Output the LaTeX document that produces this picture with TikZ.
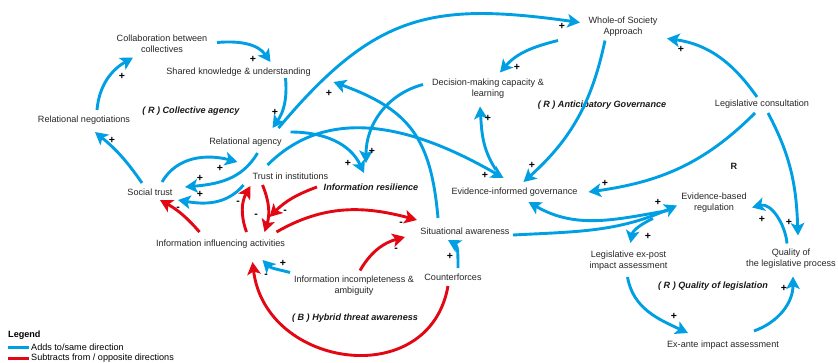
\documentclass[tikz,border=0pt]{standalone}
\usepackage{fontspec}
\setmainfont{Liberation Sans}
\usetikzlibrary{arrows.meta,calc}

\definecolor{addblue}{RGB}{0,159,227}
\definecolor{subred}{RGB}{227,6,19}
\newcommand{\cldsize}{\fontsize{9.1}{11}\selectfont}

\tikzset{
  cvar/.style={font=\cldsize, align=center, inner sep=1pt, text=black!85},
  looplbl/.style={font=\cldsize\bfseries\itshape, inner sep=1pt, text=black!90},
  addarrow/.style={draw=addblue, line width=2.9pt, -{Stealth[length=12.5pt,width=13.5pt,inset=3pt]}},
  subarrow/.style={addarrow, draw=subred},
  sgn/.style={font=\fontsize{10.5}{10.5}\selectfont\bfseries, inner sep=0pt},
}

\begin{document}
\begin{tikzpicture}[x=1pt,y=1pt]
	\useasboundingbox (0,0) rectangle (838,-362);

	% variables
	\node[cvar] (collab) at (162,-43.5) {Collaboration between\\collectives};
	\node[cvar] (shared) at (238.5,-72) {Shared knowledge \& understanding};
	\node[cvar] (relneg) at (84,-120) {Relational negotiations};
	\node[cvar] (relag) at (245.5,-142) {Relational agency};
	\node[cvar] (trust) at (290.5,-176) {Trust in institutions};
	\node[cvar] (social) at (150,-192) {Social trust};
	\node[looplbl] (infres) at (371,-187) {Information resilience};
	\node[cvar] (infl) at (220.5,-244) {Information influencing activities};
	\node[cvar] (sitaw) at (465,-231) {Situational awareness};
	\node[cvar] (incomp) at (354,-285.5) {Information incompleteness \&\\ambiguity};
	\node[cvar] (counter) at (453,-277) {Counterforces};
	\node[cvar] (whole) at (623,-26.5) {Whole-of Society\\Approach};
	\node[cvar] (decis) at (488,-88.5) {Decision-making capacity \&\\learning};
	\node[cvar] (legcons) at (762,-104) {Legislative consultation};
	\node[cvar] (eig) at (514.5,-192) {Evidence-informed governance};
	\node[cvar] (ebr) at (714,-202.5) {Evidence-based\\regulation};
	\node[cvar] (expost) at (628.5,-261) {Legislative ex-post\\impact assessment};
	\node[cvar] (qual) at (791,-258.5) {Quality of\\the legislative process};
	\node[cvar] (exante) at (723,-345) {Ex-ante impact assessment};

	% loop names
	\node[looplbl] (lpcoll) at (191,-111) {( R ) Collective agency};
	\node[looplbl] (lpanti) at (602,-105) {( R ) Anticipatory Governance};
	\node[looplbl] (lphyb) at (355,-318) {( B ) Hybrid threat awareness};
	\node[looplbl] (lpqual) at (713,-286) {( R ) Quality of legislation};
	\node[looplbl, font=\cldsize\bfseries] (lpr) at (734,-166) {R};

	% collective agency
	\draw[addarrow] ($(collab)+(55,1)$) to[out=5,in=125] ($(shared)+(32,10)$);
	\draw[addarrow] ($(shared)+(47,-6)$) to[out=-85,in=55] ($(relag)+(27,14)$);
	\draw[addarrow] ($(relneg)+(13,10)$) to[out=85,in=210] ($(collab)+(-29,-14)$);
	\draw[addarrow] ($(social)+(-8,9)$) to[bend right=8] ($(relneg)+(11,-12)$);
	\draw[addarrow] ($(social)+(12,10)$) to[out=60,in=165] ($(relag)+(-8,-20)$);
	\draw[addarrow] ($(relag)+(12,-11)$) to[out=240,in=5] ($(social)+(35,5)$);
	\draw[addarrow] ($(trust)+(-47,-9)$) to[out=230,in=-10] ($(social)+(28,-8)$);
	\draw[addarrow] ($(relag)+(33,14)$) to[out=50,in=172,looseness=1.2] ($(whole)+(-43,4)$);
	\draw[addarrow] ($(relag)+(45,10)$) to[out=0,in=115] ($(infres)+(-7,14)$);
	\draw[addarrow] ($(decis)+(-65,4)$) to[out=195,in=90] ($(infres)+(-5,24)$);
	\draw[addarrow] ($(sitaw)+(-27,13)$) to[out=95,in=-20,looseness=1.2] ($(shared)+(95,-10)$);

	% anticipatory governance
	\draw[addarrow] ($(trust)+(-23,11)$) to[out=45,in=150] ($(eig)+(-11,14)$);
	\draw[addarrow] ($(eig)+(-18.5,22)$) to[out=123,in=-86] ($(decis)+(-8,-18)$);
	\draw[addarrow] ($(whole)+(-65,-14)$) to[out=194,in=49] ($(decis)+(12,16)$);
	\draw[addarrow] ($(whole)+(-18,-14)$) to[out=258,in=42] ($(eig)+(9,10)$);
	\draw[addarrow] ($(legcons)+(-5,7)$) to[out=125,in=-8] ($(whole)+(44,-12)$);
	\draw[addarrow] ($(legcons)+(-7,-9)$) to[out=225,in=8] ($(eig)+(74,0)$);
	\draw[addarrow] ($(legcons)+(6,-9)$) to[out=-62,in=92] ($(qual)+(7,23)$);

	% quality of legislation
	\draw[addarrow] ($(qual)+(-4,15)$) to[out=95,in=15] ($(ebr)+(38,-5)$);
	\draw[addarrow] ($(sitaw)+(48,-4)$) to[out=3,in=204] ($(ebr)+(-37,-3)$);
	\draw[addarrow] ($(ebr)+(-46,-8)$) to[out=190,in=-30] ($(eig)+(14,-10)$);
	\draw[addarrow] ($(ebr)+(-61,-16)$) to[out=205,in=80] ($(expost)+(2,18)$);
	\draw[addarrow] ($(expost)+(-1,-16)$) to[out=-80,in=155] ($(exante)+(-35,12)$);
	\draw[addarrow] ($(exante)+(31,14)$) to[out=20,in=-90] ($(qual)+(2,-18)$);

	% hybrid threat awareness
	\draw[subarrow] ($(infl)+(-21,12)$) to[bend right=10] ($(social)+(10,-8)$);
	\draw[subarrow] ($(infl)+(26,12)$) to[bend left=25] ($(trust)+(-40,-10)$);
	\draw[subarrow] ($(trust)+(-28,-9)$) to[bend left=20] ($(infl)+(44,12)$);
	\draw[subarrow] ($(infres)+(-54,0)$) to[out=200,in=45] ($(infl)+(49,27)$);
	\draw[subarrow] ($(infl)+(56,12)$) to[out=30,in=165] ($(sitaw)+(-48,11)$);
	\draw[subarrow] ($(incomp)+(6,15)$) to[out=60,in=195] ($(sitaw)+(-60,-6)$);
	\draw[subarrow] ($(counter)+(-5,-9)$) to[out=-100,in=-83,looseness=1.4] ($(infl)+(32,-18)$);
	\draw[addarrow] ($(incomp)+(-64,13)$) to[out=165,in=-45] ($(infl)+(42,-16)$);
	\draw[addarrow] ($(counter)+(5,9)$) to[out=90,in=-30] ($(sitaw)+(-17,-9)$);

	% polarities
	\foreach \x/\y [count=\i] in {253/59, 275/112, 122/76, 112/140, 220/168, 200/178,
		200/194, 562/26, 348/163, 372/151, 329/93, 485/175, 488/118, 517/67, 532/165,
		681/49, 605/183, 789/222, 762/219, 658/202, 648/236, 674/316, 784/288,
		283/263, 450/256}
		\node[sgn] (plus\i) at (\x,-\y) {+};
	\foreach \x/\y [count=\i] in {178/209, 238/203, 256/216, 285/212, 401/224,
		396/250, 266/276}
		\node[sgn] (minus\i) at (\x,-\y) {-};

	% legend
	\node[anchor=west, inner sep=0pt, font=\cldsize\bfseries] (legend) at (8,-335) {Legend};
	\node[anchor=west, inner sep=0pt, font=\cldsize] (addtxt) at (31,-347) {Adds to/same direction};
	\node[anchor=west, inner sep=0pt, font=\cldsize] (subtxt) at (31,-358) {Subtracts from / opposite directions};
	\draw[addblue, line width=3pt] ([xshift=-23pt]addtxt.west) -- ([xshift=-2pt]addtxt.west);
	\draw[subred, line width=3pt] ([xshift=-23pt]subtxt.west) -- ([xshift=-2pt]subtxt.west);
\end{tikzpicture}
\end{document}
